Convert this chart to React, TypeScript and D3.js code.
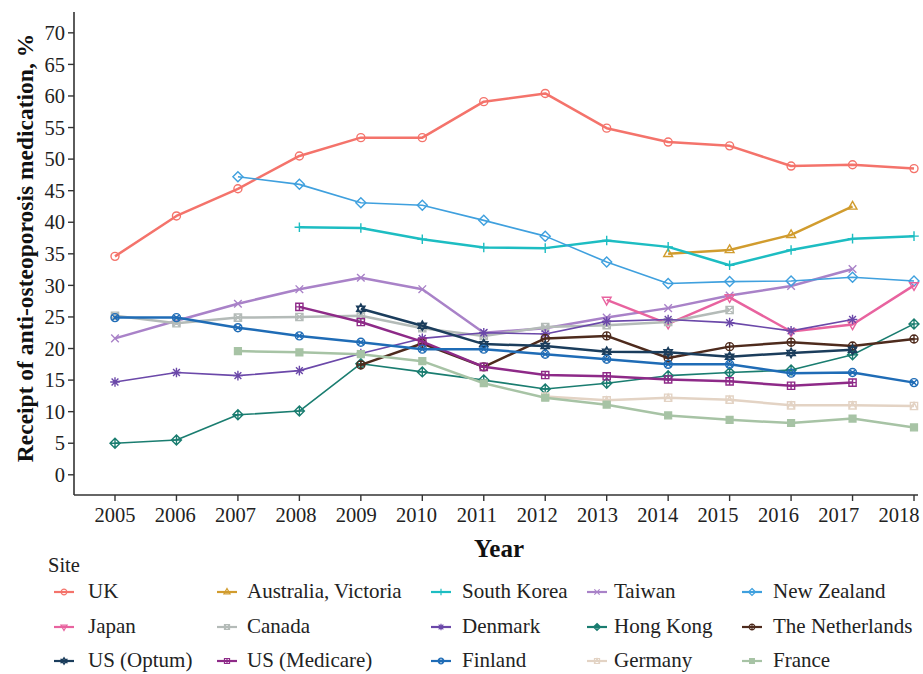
import React from "react";
import * as d3 from "d3";

const years = [2005, 2006, 2007, 2008, 2009, 2010, 2011, 2012, 2013, 2014, 2015, 2016, 2017, 2018];
const yTicks = [0, 5, 10, 15, 20, 25, 30, 35, 40, 45, 50, 55, 60, 65, 70];

const sites = ["UK", "Australia, Victoria", "South Korea", "Taiwan", "New Zealand", "Japan", "Canada", "Denmark", "Hong Kong", "The Netherlands", "US (Optum)", "US (Medicare)", "Finland", "Germany", "France"];
const colors = ["#F4736B", "#D19C2E", "#1DBDC2", "#A982C8", "#3FA0DE", "#E8639F", "#B4BBB8", "#6B48A9", "#1A7D70", "#4E2B1D", "#1B3D5C", "#8E2A88", "#1F6CB6", "#E3D3C4", "#A7C3A5"];
const shapes = [1, 2, 3, 4, 5, 6, 7, 8, 9, 10, 11, 12, 13, 14, 15];
const lineWidths = [2.5, 2.5, 2.5, 2.5, 1.6, 2.5, 2.5, 1.6, 1.6, 2.5, 2.5, 2.5, 2.5, 2.5, 2.5];

const uk = [34.6, 41.0, 45.3, 50.5, 53.4, 53.4, 59.1, 60.4, 54.9, 52.7, 52.1, 48.9, 49.1, 48.5];
const australia = [null, null, null, null, null, null, null, null, null, 35.0, 35.6, 38.0, 42.5, null];
const southKorea = [null, null, null, 39.2, 39.1, 37.3, 36.0, 35.9, 37.1, 36.1, 33.2, 35.6, 37.4, 37.8];
const taiwan = [21.6, 24.4, 27.1, 29.4, 31.2, 29.4, 22.5, 23.2, 24.9, 26.4, 28.4, 29.9, 32.6, null];
const newZealand = [null, null, 47.2, 46.0, 43.1, 42.7, 40.3, 37.8, 33.7, 30.3, 30.6, 30.7, 31.3, 30.7];
const japan = [null, null, null, null, null, null, null, null, 27.7, 23.9, 28.1, 22.7, 23.8, 30.0];
const canada = [25.2, 24.0, 24.9, 25.0, 25.2, 23.2, 22.0, 23.4, 23.7, 24.2, 26.1, null, null, null];
const denmark = [14.7, 16.2, 15.7, 16.5, 19.2, 21.6, 22.5, 22.3, 24.3, 24.6, 24.1, 22.8, 24.6, null];
const hongKong = [5.0, 5.5, 9.5, 10.1, 17.6, 16.3, 15.0, 13.6, 14.5, 15.7, 16.2, 16.6, 19.0, 23.9];
const netherlands = [null, null, null, null, 17.4, 20.8, 17.1, 21.6, 22.0, 18.5, 20.3, 21.0, 20.4, 21.5];
const usOptum = [null, null, null, null, 26.3, 23.6, 20.7, 20.4, 19.5, 19.4, 18.7, 19.3, 19.8, null];
const usMedicare = [null, null, null, 26.6, 24.2, 21.1, 17.1, 15.8, 15.6, 15.1, 14.8, 14.1, 14.6, null];
const finland = [24.9, 24.9, 23.3, 22.0, 21.0, 19.9, 19.9, 19.1, 18.3, 17.5, 17.5, 16.1, 16.2, 14.6];
const germany = [null, null, null, null, null, null, null, 12.4, 11.8, 12.2, 11.9, 11.0, 11.0, 10.9];
const france = [null, null, 19.6, 19.4, 19.1, 18.0, 14.5, 12.2, 11.1, 9.4, 8.7, 8.2, 8.9, 7.5];

const seriesValues = [uk, australia, southKorea, taiwan, newZealand, japan, canada, denmark, hongKong, netherlands, usOptum, usMedicare, finland, germany, france];

const FONT = "'Liberation Serif', 'Times New Roman', serif";

function markerPath(shape: number, s: number): string {
  const c = (r: number) => `M${-r},0A${r},${r} 0 1,0 ${r},0A${r},${r} 0 1,0 ${-r},0Z`;
  const sq = (r: number) => `M${-r},${-r}H${r}V${r}H${-r}Z`;
  const plus = (r: number) => `M${-r},0H${r}M0,${-r}V${r}`;
  const x = (r: number) => `M${-r},${-r}L${r},${r}M${-r},${r}L${r},${-r}`;
  const dia = (r: number) => `M0,${-r}L${r},0L0,${r}L${-r},0Z`;
  const tu = (r: number) => `M0,${-r * 1.15}L${r},${r * 0.6}L${-r},${r * 0.6}Z`;
  const td = (r: number) => `M0,${r * 1.15}L${r},${-r * 0.6}L${-r},${-r * 0.6}Z`;
  switch (shape) {
    case 1: return c(s);
    case 2: return tu(s * 1.1);
    case 3: return plus(s * 1.2);
    case 4: return x(s * 0.95);
    case 5: return dia(s * 1.25);
    case 6: return td(s * 1.1);
    case 7: return sq(s * 0.9) + x(s * 0.9);
    case 8: return plus(s * 1.2) + x(s * 0.85);
    case 9: return dia(s * 1.25) + plus(s * 1.25);
    case 10: return c(s) + plus(s);
    case 11: return tu(s * 1.05) + td(s * 1.05);
    case 12: return sq(s * 0.9) + plus(s * 0.9);
    case 13: return c(s) + x(s * 0.7);
    case 14: return sq(s * 0.9) + `M${-s * 0.9},${s * 0.9}L0,${-s * 0.9}L${s * 0.9},${s * 0.9}`;
    default: return sq(s * 0.85);
  }
}

function Marker({ shape, color, s, cx, cy, sw }: { shape: number; color: string; s: number; cx: number; cy: number; sw: number }) {
  const filled = shape === 15;
  return (
    <path
      d={markerPath(shape, s)}
      transform={`translate(${cx},${cy})`}
      fill={filled ? color : "none"}
      stroke={color}
      strokeWidth={sw}
    />
  );
}

export default function App() {
  const W = 923, H = 674;
  const left = 74, right = 918, top = 12, bottom = 495;
  const x = d3.scaleLinear().domain([2004.333, 2018.065]).range([left, right]);
  const y = d3.scaleLinear().domain([-3.2, 73.3]).range([bottom, top]);
  // tick labels in the reference sit on a slightly narrower spacing than the ticks
  const xLabel = d3.scaleLinear().domain([2005, 2018]).range([x(2005), x(2018) - 15]);

  const line = d3.line<[number, number | null]>()
    .defined((d) => d[1] !== null)
    .x((d) => x(d[0]))
    .y((d) => y(d[1] as number));

  const legendCols = [54, 217, 431, 587, 742];
  const legendTextX = [88, 247, 462, 614, 773];
  const legendBaselines = [598, 633, 667];

  return (
    <svg width={W} height={H} style={{ position: "absolute", left: 0, top: 0, background: "#fff" }} fontFamily={FONT}>
      <rect x={0} y={0} width={W} height={H} fill="#fff" />
      {seriesValues.map((vals, i) => {
        const pts: [number, number | null][] = years.map((yr, j) => [yr, vals[j]]);
        return (
          <g key={sites[i]}>
            <path d={line(pts) || ""} fill="none" stroke={colors[i]} strokeWidth={lineWidths[i]} strokeLinejoin="round" />
            {pts.filter((p) => p[1] !== null).map((p, k) => (
              <Marker key={k} shape={shapes[i]} color={colors[i]} s={4} cx={x(p[0])} cy={y(p[1] as number)} sw={1.4} />
            ))}
          </g>
        );
      })}
      <line x1={left} x2={left} y1={top} y2={bottom} stroke="#333" strokeWidth={1.6} />
      <line x1={left} x2={right} y1={bottom} y2={bottom} stroke="#333" strokeWidth={1.6} />
      {yTicks.map((t) => (
        <g key={t}>
          <line x1={left - 6} x2={left} y1={y(t)} y2={y(t)} stroke="#333" strokeWidth={1.4} />
          <text x={left - 9} y={y(t)} dy="0.35em" textAnchor="end" fontSize={20.5} fill="#222">{t}</text>
        </g>
      ))}
      {years.map((t) => (
        <g key={t}>
          <line x1={x(t)} x2={x(t)} y1={bottom} y2={bottom + 6} stroke="#333" strokeWidth={1.4} />
          <text x={xLabel(t)} y={522} textAnchor="middle" fontSize={20.5} fill="#222">{t}</text>
        </g>
      ))}
      <text x={499} y={557} textAnchor="middle" fontSize={25} fontWeight="bold" fill="#111">Year</text>
      <text transform={`translate(33,248) rotate(-90)`} textAnchor="middle" fontSize={23.5} fontWeight="bold" fill="#111">
        Receipt of anti-osteoporosis medication, %
      </text>
      <text x={48} y={572} fontSize={20.5} fill="#222">Site</text>
      {sites.map((s, i) => {
        const col = i % 5;
        const row = Math.floor(i / 5);
        const lx = legendCols[col];
        const base = legendBaselines[row];
        const ly = base - 6;
        return (
          <g key={s}>
            <line x1={lx} x2={lx + 20} y1={ly} y2={ly} stroke={colors[i]} strokeWidth={2.2} />
            <Marker shape={shapes[i]} color={colors[i]} s={2.8} cx={lx + 10} cy={ly} sw={1.2} />
            <text x={legendTextX[col]} y={base} fontSize={21} fill="#222">{s}</text>
          </g>
        );
      })}
    </svg>
  );
}
